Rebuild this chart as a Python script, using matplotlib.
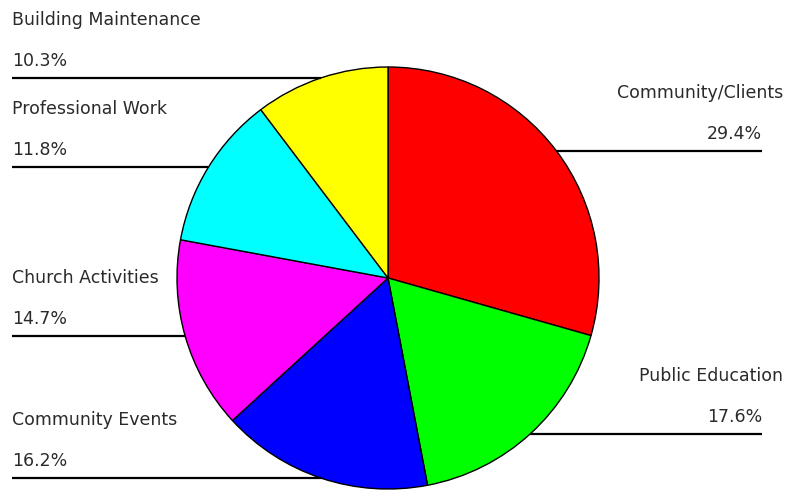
import numpy as np
import matplotlib.pyplot as plt

# -----------------------------
# Data
# -----------------------------

categories = ["Community/Clients", "Public Education", "Community Events",
              "Church Activities", "Professional Work", "Building Maintenance"]
shares = [29.4, 17.6, 16.2, 14.7, 11.8, 10.3]
slice_colors = ["#ff0000", "#00ff00", "#0000ff", "#ff00ff", "#00ffff", "#ffff00"]

W, H = 785, 490
CENTER = (388, H - 278)
RADIUS = 211

plt.rcParams["font.family"] = ["DejaVu Sans"]

fig = plt.figure(figsize=(W / 100, H / 100), dpi=100)
ax = fig.add_axes([0, 0, 1, 1])

wedges, _ = ax.pie(
    shares,
    colors=slice_colors,
    startangle=90,
    counterclock=False,
    center=CENTER,
    radius=RADIUS,
    wedgeprops=dict(edgecolor="black", linewidth=1),
    frame=True,
)
ax.set_xlim(0, W)
ax.set_ylim(0, H)
ax.set_aspect("equal")
ax.axis("off")

# -----------------------------
# Labels with leader lines
# -----------------------------

for wedge, name, value in zip(wedges, categories, shares):
    mid = np.deg2rad((wedge.theta1 + wedge.theta2) / 2)
    px = CENTER[0] + RADIUS * np.cos(mid)
    py = CENTER[1] + RADIUS * np.sin(mid)
    if px > CENTER[0] + 100:
        x_end, ha = 762, "right"
        name_x = 783
    else:
        x_end, ha = 12, "left"
        name_x = 12
    ax.plot([px, x_end], [py, py], color="black", linewidth=1.6,
            solid_capstyle="butt")
    ax.text(x_end, py + 12, f"{value:.1f}%", ha=ha, va="baseline",
            fontsize=12.5, color="#2a2a2a")
    ax.text(name_x, py + 53, name, ha=ha, va="baseline",
            fontsize=12.5, color="#2a2a2a")

fig.savefig("out.png", dpi=100, facecolor="white")
